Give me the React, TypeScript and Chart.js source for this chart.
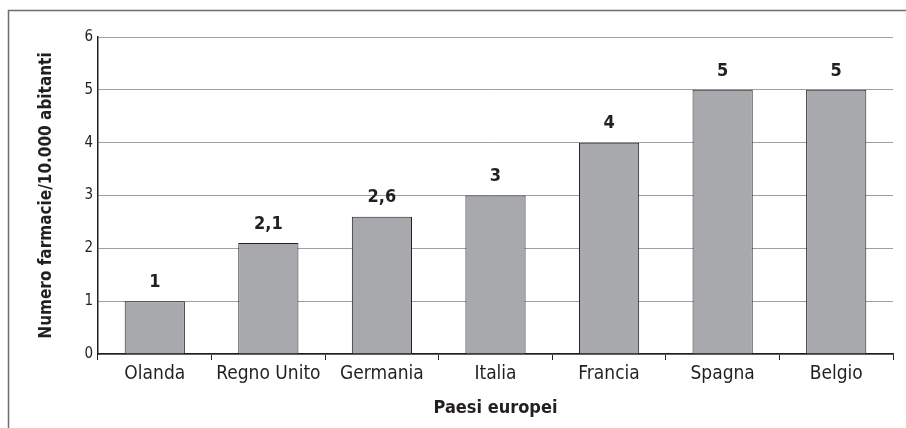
import React, { useEffect, useRef } from "react";
import { Chart, registerables } from "chart.js";

Chart.register(...registerables);

const categories = ["Olanda", "Regno Unito", "Germania", "Italia", "Francia", "Spagna", "Belgio"];
const values = [1, 2.1, 2.6, 3, 4, 5, 5];
const valueLabels = ["1", "2,1", "2,6", "3", "4", "5", "5"];
const yTicks = [0, 1, 2, 3, 4, 5, 6];
const yTitle = "Numero farmacie/10.000 abitanti";
const xTitle = "Paesi europei";

const FONT = '"Liberation Sans Narrow", "DejaVu Sans Condensed", "Roboto", sans-serif';
const INK = "#231f20";

const valueLabelPlugin = {
  id: "valueLabels",
  afterDatasetsDraw(chart: any) {
    const ctx = chart.ctx;
    const meta = chart.getDatasetMeta(0);
    ctx.save();
    ctx.fillStyle = INK;
    ctx.font = `bold 18px ${FONT}`;
    ctx.textAlign = "center";
    ctx.textBaseline = "middle";
    meta.data.forEach((bar: any, i: number) => {
      ctx.fillText(valueLabels[i], bar.x, bar.y - 19);
    });
    ctx.restore();
  },
};

const framePlugin = {
  id: "frame",
  afterDraw(chart: any) {
    const ctx = chart.ctx;
    ctx.save();
    ctx.strokeStyle = "#6d6e71";
    ctx.lineWidth = 1.5;
    ctx.beginPath();
    ctx.moveTo(8.5, chart.height);
    ctx.lineTo(8.5, 10.5);
    ctx.lineTo(chart.width, 10.5);
    ctx.stroke();
    ctx.restore();
  },
};

export default function App() {
  const ref = useRef<HTMLCanvasElement | null>(null);

  useEffect(() => {
    document.body.style.margin = "0";
    const canvas = ref.current;
    if (!canvas) return;
    const chart = new Chart(canvas, {
      type: "bar",
      data: {
        labels: categories,
        datasets: [
          {
            data: values,
            backgroundColor: "#a7a9ac",
            borderColor: INK,
            borderWidth: 1,
            barPercentage: 0.53,
            categoryPercentage: 1,
          },
        ],
      },
      options: {
        animation: false,
        responsive: false,
        maintainAspectRatio: false,
        layout: { padding: { top: 37, right: 13, left: 0, bottom: 0 } },
        plugins: {
          legend: { display: false },
          tooltip: { enabled: false },
        },
        scales: {
          x: {
            afterFit: (s: any) => {
              s.height = 74;
            },
            grid: {
              offset: true,
              drawOnChartArea: false,
              drawTicks: true,
              tickLength: 6,
              color: INK,
              lineWidth: 1,
            },
            border: { display: true, color: INK, width: 1.5 },
            ticks: {
              color: INK,
              padding: 3,
              font: { family: FONT, size: 19 },
            },
            title: {
              display: true,
              text: xTitle,
              color: INK,
              font: { family: FONT, size: 18, weight: "bold" },
              padding: { top: 0, bottom: 9 },
            },
          },
          y: {
            min: 0,
            max: 6,
            afterFit: (s: any) => {
              s.width = 98;
            },
            afterBuildTicks: (s: any) => {
              s.ticks = yTicks.map((v) => ({ value: v }));
            },
            grid: {
              drawTicks: false,
              color: "#9d9fa2",
              lineWidth: 1,
            },
            border: { display: true, color: INK, width: 1.5 },
            ticks: {
              color: INK,
              padding: 5,
              font: { family: FONT, size: 15 },
            },
            title: {
              display: true,
              text: yTitle,
              color: INK,
              font: { family: FONT, size: 17, weight: "bold" },
              padding: { top: 36, bottom: 0 },
            },
          },
        },
      },
      plugins: [valueLabelPlugin, framePlugin],
    });
    return () => chart.destroy();
  }, []);

  return (
    <div style={{ width: 906, height: 428 }}>
      <canvas ref={ref} width={906} height={428} style={{ display: "block", width: 906, height: 428 }} />
    </div>
  );
}
